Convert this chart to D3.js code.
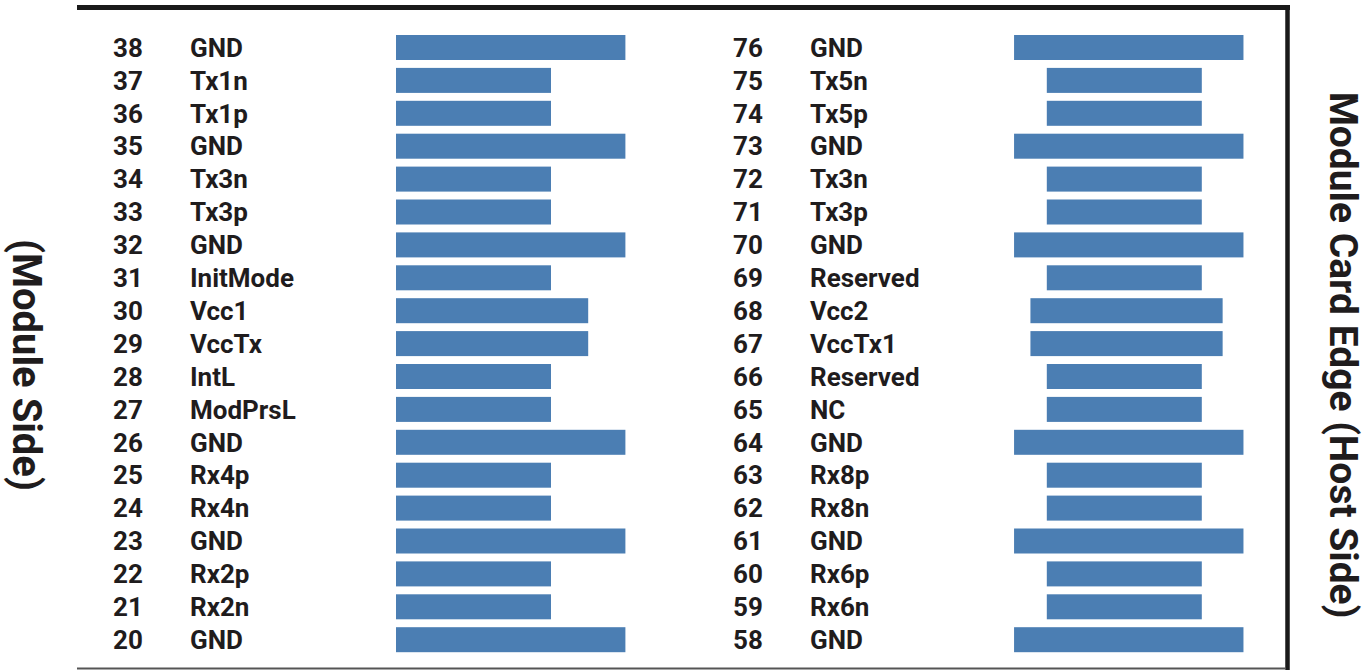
<!DOCTYPE html>
<html>
<head>
<meta charset="utf-8">
<script src="https://cdn.jsdelivr.net/npm/d3@7"></script>
<style>
  body { margin: 0; background: #fff; }
  text { font-family: Roboto, "DejaVu Sans", sans-serif; font-weight: 700; fill: #1f1c1d; }
</style>
</head>
<body>
<div id="chart-area"></div>
<script>
// pins listed top to bottom
var leftPins = [38, 37, 36, 35, 34, 33, 32, 31, 30, 29, 28, 27, 26, 25, 24, 23, 22, 21, 20];
var leftNames = ['GND', 'Tx1n', 'Tx1p', 'GND', 'Tx3n', 'Tx3p', 'GND', 'InitMode', 'Vcc1', 'VccTx',
    'IntL', 'ModPrsL', 'GND', 'Rx4p', 'Rx4n', 'GND', 'Rx2p', 'Rx2n', 'GND'];
var leftLengths = [1.48, 1, 1, 1.48, 1, 1, 1.48, 1, 1.24, 1.24, 1, 1, 1.48, 1, 1, 1.48, 1, 1, 1.48];

var rightPins = [76, 75, 74, 73, 72, 71, 70, 69, 68, 67, 66, 65, 64, 63, 62, 61, 60, 59, 58];
var rightNames = ['GND', 'Tx5n', 'Tx5p', 'GND', 'Tx3n', 'Tx3p', 'GND', 'Reserved', 'Vcc2', 'VccTx1',
    'Reserved', 'NC', 'GND', 'Rx8p', 'Rx8n', 'GND', 'Rx6p', 'Rx6n', 'GND'];
var rightLengths = [1.48, 1, 1, 1.48, 1, 1, 1.48, 1, 1.24, 1.24, 1, 1, 1.48, 1, 1, 1.48, 1, 1, 1.48];

var width = 1371;
var height = 670;
var barH = 25;
var barColor = '#4b7eb3';

var svg = d3.select('#chart-area')
    .append('svg')
    .attr('width', width)
    .attr('height', height);

var rowIdx = d3.range(leftPins.length);

var y = d3.scalePoint()
    .domain(rowIdx)
    .range([47.5, 639.7]);

var len = d3.scaleLinear()
    .domain([0, 1])
    .range([0, 155]);

// frame: thick top edge, right edge, thin bottom line
svg.append('line')
    .attr('x1', 77).attr('x2', 1290)
    .attr('y1', 7.5).attr('y2', 7.5)
    .attr('stroke', '#1a1a1a').attr('stroke-width', 5);
svg.append('line')
    .attr('x1', 1287.5).attr('x2', 1287.5)
    .attr('y1', 5).attr('y2', 670)
    .attr('stroke', '#1a1a1a').attr('stroke-width', 4.5);
svg.append('line')
    .attr('x1', 77).attr('x2', 1286)
    .attr('y1', 668.5).attr('y2', 668.5)
    .attr('stroke', '#555').attr('stroke-width', 2);

function drawColumn(pins, names, lengths, numX, nameX, barX) {
    var g = svg.append('g');

    g.selectAll('text.pin')
        .data(rowIdx)
        .enter()
        .append('text')
        .attr('class', 'pin')
        .attr('x', numX)
        .attr('y', d => y(d))
        .attr('dy', '0.355em')
        .attr('font-size', '26px')
        .text(d => pins[d]);

    g.selectAll('text.name')
        .data(rowIdx)
        .enter()
        .append('text')
        .attr('class', 'name')
        .attr('x', nameX)
        .attr('y', d => y(d))
        .attr('dy', '0.355em')
        .attr('font-size', '26px')
        .text(d => names[d]);

    g.selectAll('rect')
        .data(rowIdx)
        .enter()
        .append('rect')
        .attr('x', d => barX(len(lengths[d])))
        .attr('y', d => y(d) - barH / 2)
        .attr('width', d => len(lengths[d]))
        .attr('height', barH)
        .attr('fill', barColor);
}

// left side bars start at a fixed edge, right side ones sit roughly centred
drawColumn(leftPins, leftNames, leftLengths, 113, 190, w => 396);
drawColumn(rightPins, rightNames, rightLengths, 733, 810, w => 1115 - 0.44 * w);

svg.append('text')
    .attr('transform', 'translate(27, 365) rotate(90)')
    .attr('text-anchor', 'middle')
    .attr('dy', '0.355em')
    .attr('font-size', '40px')
    .text('(Module Side)');

svg.append('text')
    .attr('transform', 'translate(1344, 355) rotate(90)')
    .attr('text-anchor', 'middle')
    .attr('dy', '0.355em')
    .attr('font-size', '39px')
    .text('Module Card Edge (Host Side)');
</script>
</body>
</html>
